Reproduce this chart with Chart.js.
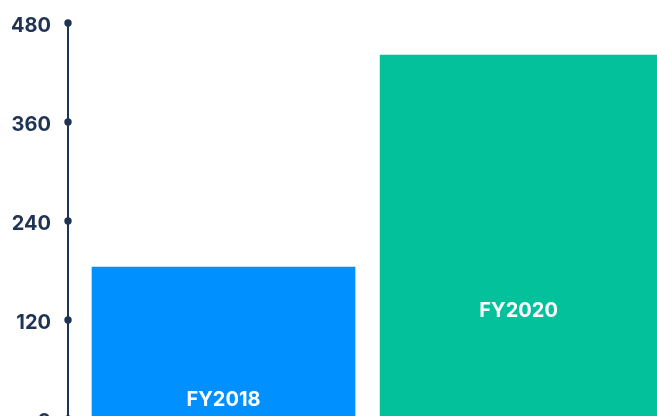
<!DOCTYPE html>
<html>
<head>
<meta charset="utf-8">
<script src="https://cdn.jsdelivr.net/npm/chart.js@4"></script>
<style>
  html, body { margin:0; padding:0; background:#fff; overflow:hidden; }
  body { width:657px; height:416px; }
  canvas { display:block; }
</style>
</head>
<body>
<canvas id="chart" width="657" height="440"></canvas>
<script>
// data
const categories = ['FY2018', 'FY2020'];
const values = [184, 441];
const yTicks = [0, 120, 240, 360, 480];

const barColors = ['#0090ff', '#03c29b'];
const barWidths = [263, 277];
const navy = '#1f3354';

// draws the round markers on the y axis and the names inside the bars
const axisDots = {
    id: 'axisDots',
    afterDraw(chart, args, opts) {
        const ctx = chart.ctx;
        const y = chart.scales.y;
        const x0 = chart.chartArea.left;
        ctx.save();
        ctx.fillStyle = navy;
        y.ticks.forEach(t => {
            ctx.beginPath();
            ctx.arc(x0, y.getPixelForValue(t.value), 3.7, 0, Math.PI * 2);
            ctx.fill();
        });
        ctx.fillStyle = '#fff';
        ctx.font = 'bold 20px Inter, "Open Sans", sans-serif';
        ctx.textAlign = 'center';
        ctx.textBaseline = 'middle';
        categories.forEach((c, i) => {
            const bar = chart.getDatasetMeta(i).data[0];
            ctx.fillText(c, bar.x, y.getPixelForValue(opts.labelAt[i]));
        });
        ctx.restore();
    }
};

new Chart(document.getElementById('chart'), {
    type: 'bar',
    data: {
        datasets: categories.map((c, i) => ({
            label: c,
            data: [{ x: i, y: values[i] }],
            backgroundColor: barColors[i],
            barThickness: barWidths[i]
        }))
    },
    options: {
        responsive: false,
        animation: false,
        devicePixelRatio: 1,
        layout: { padding: { top: 23, bottom: 21, left: 0, right: 0 } },
        plugins: {
            legend: { display: false },
            tooltip: { enabled: false },
            axisDots: { labelAt: [23, 131] }
        },
        scales: {
            x: {
                type: 'linear',
                stacked: true,
                display: false,
                offset: false,
                bounds: 'data',
                min: -0.527,
                max: 1.469
            },
            y: {
                stacked: true,
                min: 0,
                max: 480,
                afterBuildTicks: s => { s.ticks = yTicks.map(v => ({ value: v })); },
                afterFit: s => { s.width = 68; s.paddingTop = 0; s.paddingBottom = 0; },
                grid: { color: 'transparent', drawTicks: false },
                border: { display: true, color: navy, width: 2 },
                ticks: {
                    padding: 17,
                    labelOffset: 3,
                    color: navy,
                    font: { family: 'Inter, "Open Sans", sans-serif', size: 20, weight: 'bold' }
                }
            }
        }
    },
    plugins: [axisDots]
});
</script>
</body>
</html>
